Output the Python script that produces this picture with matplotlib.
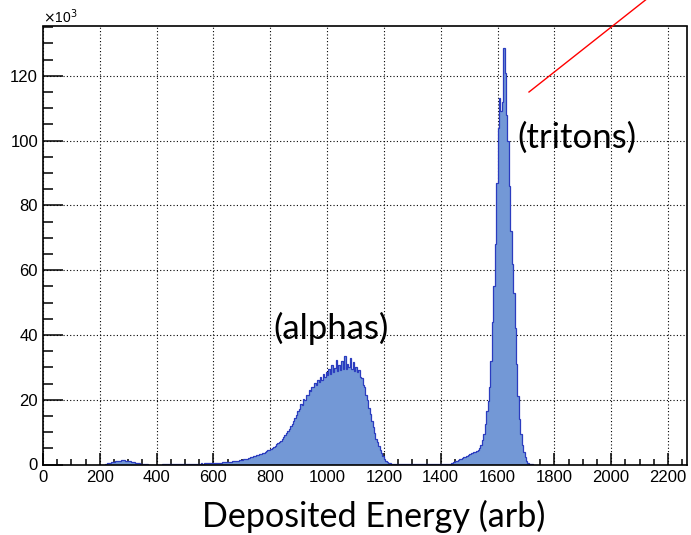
import numpy as np
import matplotlib
matplotlib.use("Agg")
import matplotlib.pyplot as plt
from matplotlib.lines import Line2D

# ---------------- data (counts in units of 10^3, bin width 5) ----------------
bin_start = 200
bin_width = 5
counts_k = [
    # 200
    0, 0, 0, 0, 0.2, 0.4, 0.5, 0.6, 0.7, 0.8,
    # 250
    0.9, 1.0, 1.1, 1.2, 1.2, 1.3, 1.3, 1.3, 1.2, 1.2,
    # 300
    1.1, 1.0, 0.9, 0.8, 0.7, 0.6, 0.5, 0.4, 0.3, 0.3,
    # 350
    0.2, 0.2, 0.15, 0.1, 0, 0, 0, 0, 0, 0,
    # 400
    0, 0, 0, 0, 0.1, 0.15, 0.15, 0.2, 0.2, 0.2,
    # 450
    0.2, 0.2, 0.25, 0.2, 0.2, 0.25, 0.2, 0.2, 0.25, 0.2,
    # 500
    0.25, 0.2, 0.25, 0.25, 0.3, 0.25, 0.3, 0.3, 0.3, 0.3,
    # 550
    0.3, 0.35, 0.3, 0.35, 0.4, 0.35, 0.4, 0.4, 0.45, 0.4,
    # 600
    0.45, 0.5, 0.5, 0.55, 0.6, 0.6, 0.65, 0.7, 0.7, 0.75,
    # 650
    0.8, 0.85, 0.9, 0.95, 1.0, 1.05, 1.1, 1.2, 1.3, 1.4,
    # 700
    1.5, 1.6, 1.7, 1.8, 1.9, 2.0, 2.2, 2.3, 2.5, 2.6,
    # 750
    2.8, 3.0, 3.1, 3.3, 3.5, 3.7, 3.9, 4.1, 4.4, 4.6,
    # 800
    4.9, 5.2, 5.5, 5.8, 6.2, 6.6, 7.0, 7.4, 7.9, 8.4,
    # 850
    9.0, 9.6, 10.3, 11.0, 11.8, 12.6, 13.5, 14.5, 15.3, 16.4,
    # 900
    17.2, 18.6, 18.4, 20.1, 20.0, 21.5, 21.4, 22.9, 22.6, 24.0,
    # 950
    23.8, 25.3, 24.6, 26.2, 25.6, 26.9, 26.1, 28.0, 27.0, 28.6,
    # 1000
    27.6, 29.4, 28.0, 30.8, 28.4, 29.9, 32.2, 28.9, 30.6, 29.2,
    # 1050
    31.8, 29.4, 33.5, 29.6, 31.0, 30.2, 33.0, 29.4, 31.6, 29.0,
    # 1100
    30.2, 28.4, 29.3, 27.0, 26.8, 24.6, 23.8, 21.4, 19.9, 17.4,
    # 1150
    15.5, 13.5, 11.5, 9.7, 8.0, 6.8, 5.6, 4.5, 3.5, 2.5,
    # 1200
    1.7, 1.1, 0.7, 0.45, 0.35, 0.3, 0.25, 0.2, 0.2, 0.15,
    # 1250
    0.15, 0.15, 0.1, 0.1, 0.1, 0.1, 0.1, 0.1, 0.1, 0.1,
    # 1300
    0.1, 0.08, 0.1, 0.08, 0.1, 0.08, 0.1, 0.08, 0.1, 0.08,
    # 1350
    0.1, 0.08, 0.1, 0.08, 0.1, 0.1, 0.1, 0.1, 0.1, 0.1,
    # 1400
    0.1, 0.1, 0.1, 0.1, 0.15, 0.2, 0.3, 0.4, 0.6, 0.8,
    # 1450
    1.0, 1.2, 1.4, 1.6, 1.8, 2.0, 2.2, 2.4, 2.6, 2.8,
    # 1500
    3.2, 3.4, 3.6, 3.8, 4.0, 4.3, 4.6, 5.0, 6.0, 7.5,
    # 1550
    9.5, 12.5, 16.5, 19.5, 24.0, 32.0, 44.0, 55.0, 68.0, 87.0,
    # 1600
    104.0, 113.0, 109.0, 112.0, 128.5, 121.0, 108.0, 100.0, 86.0, 72.0,
    # 1650
    62.0, 53.0, 42.0, 31.0, 21.0, 14.0, 9.5, 6.0, 4.0, 2.3,
    # 1700
    1.2, 0.6, 0.3, 0.15, 0.05,
]

x_ticks = [0, 200, 400, 600, 800, 1000, 1200, 1400, 1600, 1800, 2000, 2200]
y_ticks = [0, 20, 40, 60, 80, 100, 120]
x_max = 2267
y_max = 135.2

x_label = "Deposited Energy (arb)"
peak_labels = ["(alphas)", "(tritons)"]

# ---------------- figure ----------------
W, H = 691, 535
fig = plt.figure(figsize=(W / 100, H / 100), dpi=100)
ax = fig.add_axes([43 / W, 1 - 464.5 / H, (687 - 43) / W, (464.5 - 26.5) / H])

edges = bin_start + bin_width * np.arange(len(counts_k) + 1)
fill_col = "#7398d6"
edge_col = "#2b3cbf"
ax.stairs(counts_k, edges, fill=True, color=fill_col, zorder=2)
ax.stairs(counts_k, edges, color=edge_col, lw=0.9, zorder=3)

ax.set_xlim(0, x_max)
ax.set_ylim(0, y_max)
ax.set_xticks(x_ticks)
ax.set_yticks(y_ticks)
ax.set_xticks(np.arange(0, x_max, 50), minor=True)
ax.set_yticks(np.arange(0, y_max, 5), minor=True)

ax.grid(True, which="major", color="black", linestyle=(0, (1, 2)), lw=0.8, zorder=1)
ax.set_axisbelow(True)

lab_font = dict(family=["Liberation Sans", "DejaVu Sans"], size=12)
ax.set_xticklabels([str(v) for v in x_ticks], **lab_font)
ax.set_yticklabels([str(v) for v in y_ticks], **lab_font)

ax.tick_params(axis="both", which="both", direction="in", width=1.1, color="black")
ax.tick_params(axis="y", which="major", length=14.4, pad=3.6)
ax.tick_params(axis="y", which="minor", length=7)
ax.tick_params(axis="x", which="major", length=8.6, pad=4)
ax.tick_params(axis="x", which="minor", length=4.3)
for s in ax.spines.values():
    s.set_linewidth(1.2)
    s.set_zorder(5)

fig.text(43 / W, 1 - 23 / H, r"$\times$10$^{3}$", fontsize=10,
         family=["Liberation Sans", "DejaVu Sans"], ha="left", va="baseline")

cal = ["Lato", "DejaVu Sans"]
fig.text(374 / W, 1 - 527 / H, x_label, fontsize=24.6, family=cal,
         ha="center", va="baseline")
fig.text(331 / W, 1 - 328 / H, peak_labels[0], fontsize=25, family=cal,
         ha="center", va="center")
fig.text(576.5 / W, 1 - 138 / H, peak_labels[1], fontsize=25, family=cal,
         ha="center", va="center")

fig.add_artist(Line2D([529 / W, 648 / W], [1 - 92 / H, 1 + 2 / H],
                      transform=fig.transFigure, color="red", lw=1.0))

fig.savefig("out.png", dpi=100)
